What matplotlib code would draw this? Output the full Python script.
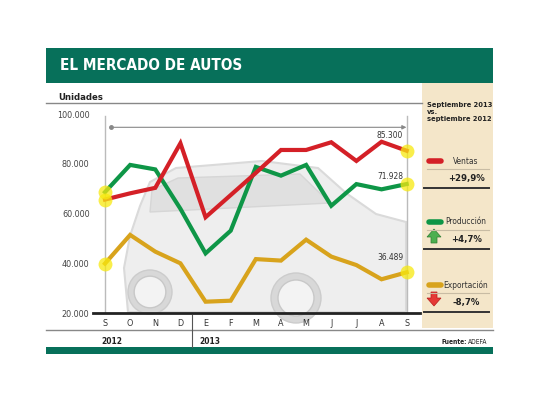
import matplotlib
matplotlib.use("Agg")
import matplotlib.pyplot as plt
from matplotlib.patches import Rectangle, Polygon, Circle

plt.rcParams['font.family'] = ['DejaVu Sans']
plt.rcParams['font.stretch'] = 'condensed'

# datos (unidades)
meses = ["S", "O", "N", "D", "E", "F", "M", "A", "M", "J", "J", "A", "S"]
ventas = [65700, 68200, 70400, 88300, 58600, 67500, 76400, 85600, 85600, 88700, 81200, 88900, 85300]
produccion = [68700, 79600, 77800, 62000, 44100, 53200, 78800, 75300, 79600, 63200, 71900, 69800, 71928]
exportacion = [40000, 51500, 44800, 40100, 24700, 25100, 41800, 41200, 49600, 42800, 39400, 33700, 36489]
yticks = [20000, 40000, 60000, 80000, 100000]
ytick_labels = ["20.000", "40.000", "60.000", "80.000", "100.000"]
variaciones = ["+29,9%", "+4,7%", "-8,7%"]
series_nombres = ["Ventas", "Producción", "Exportación"]

ROJO = "#d42027"
VERDE = "#0e9647"
ORO = "#d8a31c"
VERDE_OSC = "#07705a"
BEIGE = "#f4e6c9"

fig = plt.figure(figsize=(5.4, 4.05), dpi=100)
fig.patch.set_facecolor("white")

# fondo en pixeles
bg = fig.add_axes([0, 0, 1, 1], zorder=0)
bg.set_xlim(0, 540)
bg.set_ylim(405, 0)
bg.axis("off")

bg.add_patch(Rectangle((46, 48), 447, 35, color=VERDE_OSC, lw=0))
bg.text(60, 66, "EL MERCADO DE AUTOS", color="white", fontsize=11, fontweight="bold", va="center")
bg.add_patch(Rectangle((421.5, 83), 71.5, 245, color=BEIGE, lw=0))
bg.text(58, 97, "Unidades", fontsize=6.8, fontweight="bold", color="#222", va="center")
bg.plot([46, 421.5], [103, 103], color="#888", lw=1)

# silueta del auto
bg.add_patch(Polygon([(128, 312), (124, 268), (130, 236), (140, 206), (150, 182), (176, 168), (262, 161),
                      (318, 168), (346, 193), (376, 214), (406, 222), (406, 312)],
                     closed=True, facecolor="#eeeeee", edgecolor="#dadada", lw=1.5))
bg.add_patch(Polygon([(152, 190), (178, 178), (300, 174), (330, 203), (150, 212)],
                     closed=True, facecolor="#e0e0e0", edgecolor="#d6d6d6", lw=1))
for cx, cy, r in [(150, 292, 22), (296, 298, 25)]:
    bg.add_patch(Circle((cx, cy), r, facecolor="#d8d8d8", edgecolor="#cccccc"))
    bg.add_patch(Circle((cx, cy), r * 0.72, facecolor="#f3f3f3", edgecolor="#c8c8c8"))

# pie
bg.plot([46, 493], [330, 330], color="#888", lw=1)
bg.plot([191.7, 191.7], [315, 347], color="#555", lw=0.8)
bg.text(101, 341, "2012", fontsize=6, fontweight="bold", color="#222", va="center")
bg.text(199, 341, "2013", fontsize=6, fontweight="bold", color="#222", va="center")
bg.text(487, 341.5, "ADEFA", fontsize=4.8, color="#222", ha="right", va="center")
bg.text(467, 341.5, "Fuente:", fontsize=4.8, fontweight="bold", color="#222", ha="right", va="center")
bg.add_patch(Rectangle((46, 346.7), 447, 7.6, color=VERDE_OSC, lw=0))

# panel derecho
bg.text(427, 101.5, "Septiembre 2013\nvs.\nseptiembre 2012", fontsize=5.4, fontweight="bold",
        color="#222", va="top", linespacing=1.25)
panel_y = [161, 222, 285]
for nombre, color, var, yy in zip(series_nombres, [ROJO, VERDE, ORO], variaciones, panel_y):
    bg.plot([428.5, 441], [yy, yy], color=color, lw=4, solid_capstyle="round")
    bg.text(466, yy, nombre, fontsize=6, color="#333", ha="center", va="center")
    bg.plot([427, 489], [yy + 7.5, yy + 7.5], color="#c8bca4", lw=0.8)
    bg.text(466.5, yy + 17.5, var, fontsize=6.8, fontweight="bold", color="#222", ha="center", va="center")
    bg.plot([424, 489], [yy + 26.5, yy + 26.5], color="#333", lw=1.4)
bg.add_patch(Polygon([(434, 229), (427, 237), (431, 237), (431, 243), (437, 243), (437, 237), (441, 237)],
                     closed=True, facecolor="#4caf50", edgecolor="#2e7d32", lw=0.5))
bg.add_patch(Polygon([(434, 306), (427, 298), (431, 298), (431, 292), (437, 292), (437, 298), (441, 298)],
                     closed=True, facecolor="#e53935", edgecolor="#b71c1c", lw=0.5))

# grafico
ax = fig.add_axes([93 / 540, (405 - 313.4) / 405, 327 / 540, 199.3 / 405], zorder=1)
ax.patch.set_alpha(0)
ax.set_xlim(-0.477, 12.53)
ax.set_ylim(20000, 100000)
for s in ax.spines.values():
    s.set_visible(False)

x = list(range(len(meses)))
ax.axvline(0, ymax=0.99, color="#bbb", lw=1)
ax.axvline(12, ymax=0.99, color="#bbb", lw=1)
ax.axhline(20000, color="#222", lw=2, clip_on=False)
ax.annotate("", xy=(12.1, 94700), xytext=(0.24, 94700),
            arrowprops=dict(arrowstyle="-|>", color="#888", lw=0.8, mutation_scale=6))
ax.plot([0.24], [94700], "o", color="#888", ms=2.5)

for serie, color in [(exportacion, ORO), (produccion, VERDE), (ventas, ROJO)]:
    ax.plot(x, serie, color=color, lw=3, solid_joinstyle="miter", zorder=3)
    ax.plot([x[0], x[-1]], [serie[0], serie[-1]], "o", color="#f7e90f", alpha=0.75, ms=10,
            mec="none", zorder=4, clip_on=False)

etiquetas = [(ventas[-1], "85.300", 15), (produccion[-1], "71.928", 8), (exportacion[-1], "36.489", 14.6)]
for val, txt, dy in etiquetas:
    ax.annotate(txt, (12, val), xytext=(-16.7, dy), textcoords="offset pixels",
                ha="center", va="center", fontsize=6, color="#333")

ax.set_yticks(yticks)
ax.set_yticklabels(ytick_labels)
ax.set_xticks(x)
ax.set_xticklabels(meses)
ax.tick_params(axis="y", length=0, pad=2.5, labelsize=6.5, labelcolor="#444")
ax.tick_params(axis="x", length=0, pad=4, labelsize=6.5, labelcolor="#333")

fig.savefig("out.png", dpi=100)
